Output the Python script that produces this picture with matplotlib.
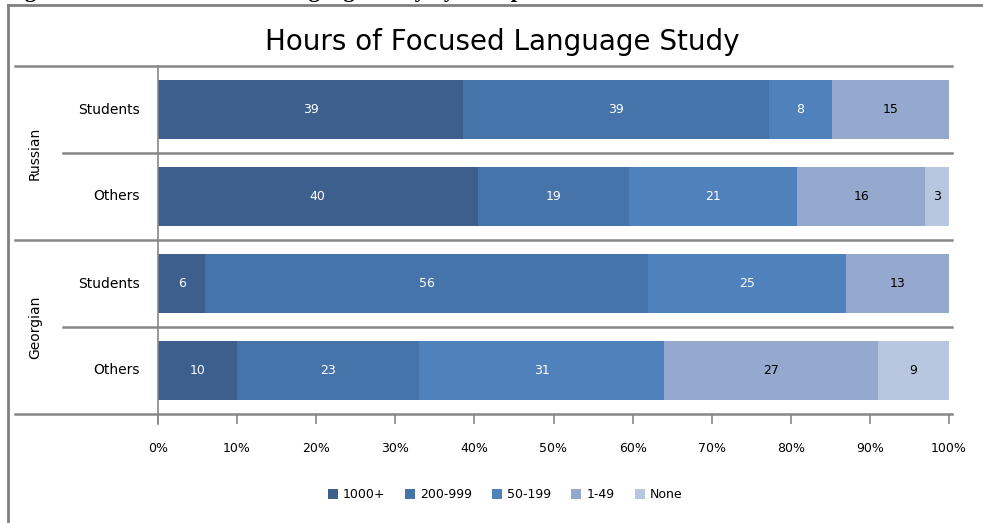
import matplotlib.pyplot as plt
from matplotlib.lines import Line2D
import matplotlib.transforms as mtransforms

rows = ['Students', 'Others', 'Students', 'Others']
groups = ['Russian', 'Georgian']
bins = ['1000+', '200-999', '50-199', '1-49', 'None']
v_1000 = [39, 40, 6, 10]
v_200 = [39, 19, 56, 23]
v_50 = [8, 21, 25, 31]
v_1 = [15, 16, 13, 27]
v_none = [0, 3, 0, 9]
colors = ['#3D5F8E', '#4673A9', '#4F81BD', '#95A9CF', '#B9C6E0']
text_colors = ['white', 'white', 'white', 'black', 'black']
ticks = [0, 10, 20, 30, 40, 50, 60, 70, 80, 90, 100]

series = [v_1000, v_200, v_50, v_1, v_none]
totals = [sum(s[i] for s in series) for i in range(len(rows))]

fig = plt.figure(figsize=(9.83, 5.23), dpi=100)
W, H = 983, 523
ax = fig.add_axes([158 / W, 1 - 414 / H, (949 - 158) / W, (414 - 66) / H])

grey = '#878787'
ypos = list(range(len(rows)))
left = [0.0] * len(rows)
for vals, c, tc, name in zip(series, colors, text_colors, bins):
    pct = [v / t * 100 for v, t in zip(vals, totals)]
    bars = ax.barh(ypos, pct, left=left, height=0.67, color=c, label=name)
    for b, v in zip(bars, vals):
        if v > 0:
            ax.text(b.get_x() + b.get_width() / 2, b.get_y() + b.get_height() / 2,
                    str(v), ha='center', va='center', color=tc, fontsize=9)
    left = [l + p for l, p in zip(left, pct)]

ax.set_xlim(0, 100)
ax.set_ylim(len(rows) - 0.5, -0.5)
ax.set_xticks(ticks)
ax.set_xticklabels([f'{t}%' for t in ticks], fontsize=9)
ax.tick_params(axis='x', length=7, color=grey, width=1.2, pad=13)
ax.set_yticks([])
for s in ['top', 'right', 'bottom']:
    ax.spines[s].set_visible(False)
ax.spines['left'].set_color(grey)
ax.spines['left'].set_linewidth(1.2)

# category separators
trans = mtransforms.blended_transform_factory(fig.transFigure, ax.transData)
for yb in [-0.5, 0.5, 1.5, 2.5, 3.5]:
    x0 = 15 / W if yb in (-0.5, 1.5, 3.5) else 63 / W
    ax.add_line(Line2D([x0, 952 / W], [yb, yb], transform=trans, color=grey,
                       lw=1.8, clip_on=False))
ax.add_line(Line2D([158 / W, 158 / W], [3.5, 3.62], transform=trans, color=grey,
                   lw=1.2, clip_on=False))

for i, r in enumerate(rows):
    ax.text(140 / W, i, r, transform=trans, ha='right', va='center', fontsize=10)
for g, yc in zip(groups, [0.5, 2.5]):
    ax.text(35 / W, yc, g, transform=trans, ha='center', va='center',
            rotation=90, fontsize=10)

fig.text(502 / W, 1 - 42 / H, 'Hours of Focused Language Study', ha='center',
         va='center', fontsize=20)

# outer frame and clipped caption
fig.add_artist(Line2D([8 / W, 1], [1 - 5 / H, 1 - 5 / H], color='#808080', lw=2))
fig.add_artist(Line2D([8 / W, 8 / W], [0, 1 - 5 / H], color='#808080', lw=2))
fig.text(5 / W, 1 + 2.5 / H, 'Figure 5: Hours of Focused Language Study by Group',
         ha='left', va='baseline', fontsize=16, fontweight='bold', family='Liberation Serif')

ax.legend(loc='center', bbox_to_anchor=(505 / W, 1 - 495 / H), bbox_transform=fig.transFigure,
          ncol=5, frameon=False, fontsize=9, handlelength=0.8, handleheight=0.8,
          columnspacing=1.6, handletextpad=0.4)

fig.savefig('out.png', dpi=100)
